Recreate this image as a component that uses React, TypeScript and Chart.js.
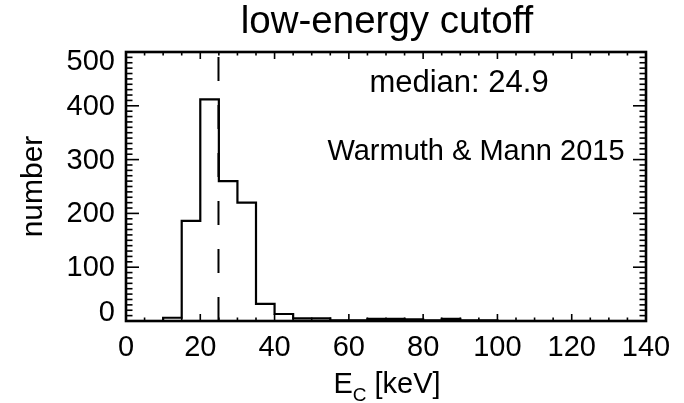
import { useEffect, useRef } from "react";
import { Chart, registerables } from "chart.js";

Chart.register(...registerables);

// ---- data ----
const binStarts = [0, 5, 10, 15, 20, 25, 30, 35, 40, 45, 50, 55, 60, 65, 70, 75, 80, 85, 90, 95, 100, 105, 110, 115, 120, 125, 130, 135];
const counts = [0, 0, 6, 186, 412, 260, 220, 32, 13, 5, 5, 1, 1, 4, 4, 3, 1, 4, 1, 1, 0, 0, 0, 0, 0, 0, 0, 0];
const binWidth = 5;
const medianValue = 24.9;
const xTickValues = [0, 20, 40, 60, 80, 100, 120, 140];
const yTickValues = [0, 100, 200, 300, 400, 500];
const titleText = "low-energy cutoff";
const medianText = "median: 24.9";
const sourceText = "Warmuth & Mann 2015";
const yAxisText = "number";
const xAxisMain = "E";
const xAxisSub = "C";
const xAxisRest = " [keV]";

const FONT = '"Liberation Sans", Arial, Helvetica, sans-serif';

const idlPlugin = {
  id: "idlFrame",
  afterDraw(chart: any) {
    const { ctx, chartArea: a, scales } = chart;
    const xs = scales.x;
    const ys = scales.y;
    ctx.save();
    ctx.strokeStyle = "#000";
    ctx.fillStyle = "#000";
    ctx.lineCap = "butt";
    const line = (x1: number, y1: number, x2: number, y2: number) => {
      ctx.beginPath();
      ctx.moveTo(x1, y1);
      ctx.lineTo(x2, y2);
      ctx.stroke();
    };
    // x ticks (major every 20, minor every 5), inward on bottom and top
    ctx.lineWidth = 1.6;
    for (let v = xs.min; v <= xs.max + 1e-9; v += 5) {
      const px = xs.getPixelForValue(v);
      const len = v % 20 === 0 ? 7 : 3.5;
      line(px, a.bottom, px, a.bottom - len);
      line(px, a.top, px, a.top + len);
    }
    // y ticks (major every 100, minor every 10), inward on left and right
    for (let v = ys.min; v <= ys.max + 1e-9; v += 10) {
      const py = ys.getPixelForValue(v);
      const len = v % 100 === 0 ? 13 : 6.5;
      line(a.left, py, a.left + len, py);
      line(a.right, py, a.right - len, py);
    }
    // frame
    ctx.lineWidth = 2.6;
    ctx.strokeRect(a.left, a.top, a.right - a.left, a.bottom - a.top);

    // y tick labels
    ctx.font = `29px ${FONT}`;
    ctx.textAlign = "right";
    ctx.textBaseline = "middle";
    yTickValues.forEach((v) => {
      let py = ys.getPixelForValue(v);
      py = Math.min(Math.max(py, a.top + 9), a.bottom - 9);
      ctx.fillText(String(v), a.left - 11, py + 1);
    });

    // title
    const cx = (a.left + a.right) / 2;
    ctx.textBaseline = "alphabetic";
    ctx.textAlign = "center";
    ctx.font = `38.5px ${FONT}`;
    ctx.fillText(titleText, cx + 1, 33);

    // annotations
    ctx.font = `31px ${FONT}`;
    ctx.fillText(medianText, 459, 92);
    ctx.font = `29px ${FONT}`;
    ctx.fillText(sourceText, 476, 160);

    // y axis title
    ctx.save();
    ctx.translate(42, (a.top + a.bottom) / 2);
    ctx.rotate(-Math.PI / 2);
    ctx.font = `30px ${FONT}`;
    ctx.textAlign = "center";
    ctx.fillText(yAxisText, 0, 0);
    ctx.restore();

    // x axis title with subscript
    ctx.textAlign = "left";
    ctx.font = `29px ${FONT}`;
    const wE = ctx.measureText(xAxisMain).width;
    const wR = ctx.measureText(xAxisRest).width;
    ctx.font = `19px ${FONT}`;
    const wC = ctx.measureText(xAxisSub).width;
    const total = wE + wC + wR;
    const x0 = cx + 1 - total / 2;
    ctx.font = `29px ${FONT}`;
    ctx.fillText(xAxisMain, x0, 393);
    ctx.font = `19px ${FONT}`;
    ctx.fillText(xAxisSub, x0 + wE, 401);
    ctx.font = `29px ${FONT}`;
    ctx.fillText(xAxisRest, x0 + wE + wC, 393);
    ctx.restore();
  },
};

export default function App() {
  const canvasRef = useRef<HTMLCanvasElement | null>(null);

  useEffect(() => {
    const canvas = canvasRef.current;
    if (!canvas) return;
    const histPoints = binStarts.map((x, i) => ({ x, y: counts[i] }));
    histPoints.push({ x: binStarts[binStarts.length - 1] + binWidth, y: counts[counts.length - 1] });

    const chart = new Chart(canvas, {
      type: "line",
      data: {
        datasets: [
          {
            data: histPoints,
            borderColor: "#000",
            borderWidth: 2.2,
            stepped: "before",
            pointRadius: 0,
            fill: false,
          },
          {
            data: [
              { x: medianValue, y: 0 },
              { x: medianValue, y: 500 },
            ],
            borderColor: "#000",
            borderWidth: 2,
            borderDash: [24, 24],
            pointRadius: 0,
            fill: false,
          },
        ],
      },
      options: {
        animation: false,
        responsive: true,
        maintainAspectRatio: false,
        layout: { padding: { top: 52, right: 38, left: 0, bottom: 0 } },
        plugins: { legend: { display: false }, title: { display: false }, tooltip: { enabled: false } },
        scales: {
          x: {
            type: "linear",
            min: 0,
            max: 140,
            afterFit: (s: any) => {
              s.height = 82;
            },
            afterBuildTicks: (s: any) => {
              s.ticks = xTickValues.map((v) => ({ value: v }));
            },
            grid: { display: false, drawTicks: false },
            border: { display: false },
            ticks: {
              color: "#000",
              font: { family: FONT, size: 29 },
              padding: 10,
              maxRotation: 0,
              autoSkip: false,
            },
          },
          y: {
            type: "linear",
            min: 0,
            max: 500,
            afterFit: (s: any) => {
              s.width = 126;
            },
            afterBuildTicks: (s: any) => {
              s.ticks = yTickValues.map((v) => ({ value: v }));
            },
            grid: { display: false, drawTicks: false },
            border: { display: false },
            ticks: { display: false },
          },
        },
      },
      plugins: [idlPlugin],
    });
    return () => chart.destroy();
  }, []);

  return (
    <div style={{ position: "fixed", left: 0, top: 0, width: 684, height: 403, background: "#fff" }}>
      <canvas ref={canvasRef} />
    </div>
  );
}
